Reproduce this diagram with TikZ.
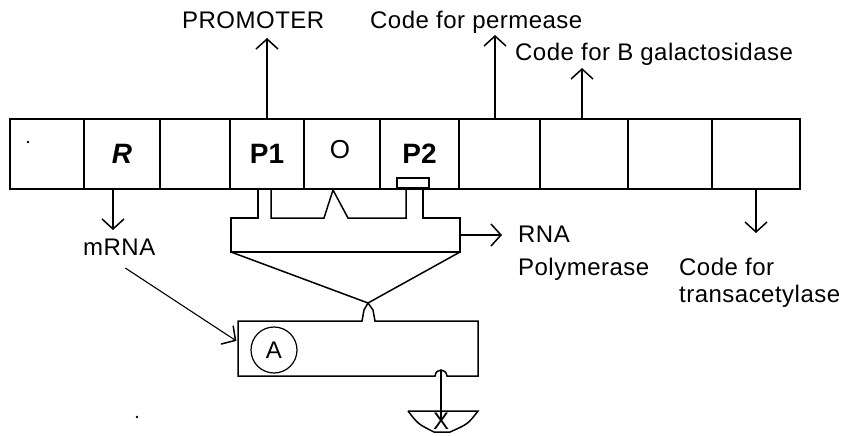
\documentclass[tikz,border=0pt]{standalone}
\usepackage{fontspec}
\setmainfont{Liberation Sans}
\newfontfamily\lblfont{Liberation Sans}[LetterSpace=2]
\usepackage{tikz}
\usetikzlibrary{positioning,arrows.meta}
\tikzset{
    cell/.style={rectangle,draw,line width=1.5pt,minimum height=70pt,inner sep=0pt},
    gene/.style={font=\fontsize{28}{32}\selectfont\bfseries},
    lbl/.style={inner sep=0pt,anchor=base west,font=\fontsize{24}{28}\lblfont},
    arr/.style={-{Straight Barb[length=10pt,width=22pt,line width=1.5pt]},line width=1.5pt},
    wire/.style={line width=1.5pt,line join=miter},
}
\begin{document}
\begin{tikzpicture}[x=1pt,y=-1pt]
\useasboundingbox (0,0) rectangle (846,436);
% the operon strip
\node[cell,minimum width=74] (blank1)   at (47,154)    {};
\node[cell,minimum width=76] (rgene)    at (122,154)   {\fontsize{28}{32}\selectfont\bfseries\itshape R};
\node[cell,minimum width=70] (blank2)   at (195,154)   {};
\node[cell,minimum width=74,gene] (p1)  at (267,154)   {P1};
\node[cell,minimum width=76] (op)       at (342,154)   {};
\node[font=\fontsize{26}{30}\selectfont] (olbl) at (340,150) {O};
\node[cell,minimum width=79,gene] (p2)  at (419.5,154) {P2};
\node[cell,minimum width=81] (permease) at (499.5,154) {};
\node[cell,minimum width=88] (galacto)  at (584,154)   {};
\node[cell,minimum width=84] (blank3)   at (670,154)   {};
\node[cell,minimum width=88] (transac)  at (756,154)   {};
\node[draw,line width=1.5pt,minimum width=32,minimum height=10,inner sep=0pt] (site) at (413,183) {};
\fill (28,142) circle (1.3);
\fill (137,417) circle (1.3);

% labels
\node[lbl] (promoter) at (182,29)  {PROMOTER};
\node[lbl] (permlbl)  at (370,29)  {Code for permease};
\node[lbl] (galalbl)  at (515,60)  {Code for B galactosidase};
\node[lbl] (mrna)     at (83,255)  {mRNA};
\node[lbl] (rna)      at (518,242) {RNA};
\node[lbl] (polym)    at (518,275) {Polymerase};
\node[lbl] (codefor)  at (679,275) {Code for};
\node[lbl] (transl)   at (679,302) {transacetylase};

% arrows to the labels
\draw[arr,shorten >=9pt] (p1.north) -- (p1.north |- promoter.base);
\draw[arr,shorten >=6pt] ([xshift=-4.5pt]permease.north) -- ([xshift=-4.5pt]permease.north |- permlbl.base);
\draw[arr,shorten >=8pt] ([xshift=-2pt]galacto.north) -- ([xshift=-2pt]galacto.north |- galalbl.base);
\draw[arr,shorten >=25pt] ([xshift=-9pt]rgene.south) -- ([xshift=-9pt]rgene.south |- mrna.base);
\draw[arr,shorten >=42pt] (transac.south) -- (transac.south |- codefor.base);

% RNA polymerase
\draw[wire] (258,189) -- (258,218) -- (231,218) -- (231,252) -- (460,252) -- (460,218) -- (423,218) -- (423,188);
\draw[wire] (271,189) -- (271,218) -- (324,218) -- (333,190) -- (348,218) -- (406,218) -- (406,188);
\coordinate (rnap) at (460,235);
\draw[arr,shorten >=16pt] (rnap) -- (rnap -| rna.west);
\coordinate (join) at (368,303);
\draw[wire] (231,252) -- (join) -- (460,252);

% repressor box
\draw[wire] (238,321) -- (362,321) -- (364,310) -- (join) -- (373,310) -- (375,321) -- (478,321)
    -- (478,376) -- (447,376) .. controls (446,368) and (436,368) .. (435,376) -- (238,376) -- cycle;
\node[circle,draw,line width=1.2pt,minimum size=46pt,inner sep=0pt,font=\fontsize{24}{28}\selectfont] (a) at (274,350) {A};
\coordinate (boxw) at (238,342);
\draw[arr,line width=1.1pt,shorten >=2pt] ([xshift=6pt,yshift=-13pt]mrna.base) -- (boxw);

% inducer
\node[lbl,anchor=center] (x) at (441,421) {X};
\draw[wire] (441,371) -- (x.center);
\draw[wire] (408,411) -- (478,411) .. controls (468,424) .. (450,432) -- (434,432) .. controls (418,424) .. (408,411);
\end{tikzpicture}
\end{document}
